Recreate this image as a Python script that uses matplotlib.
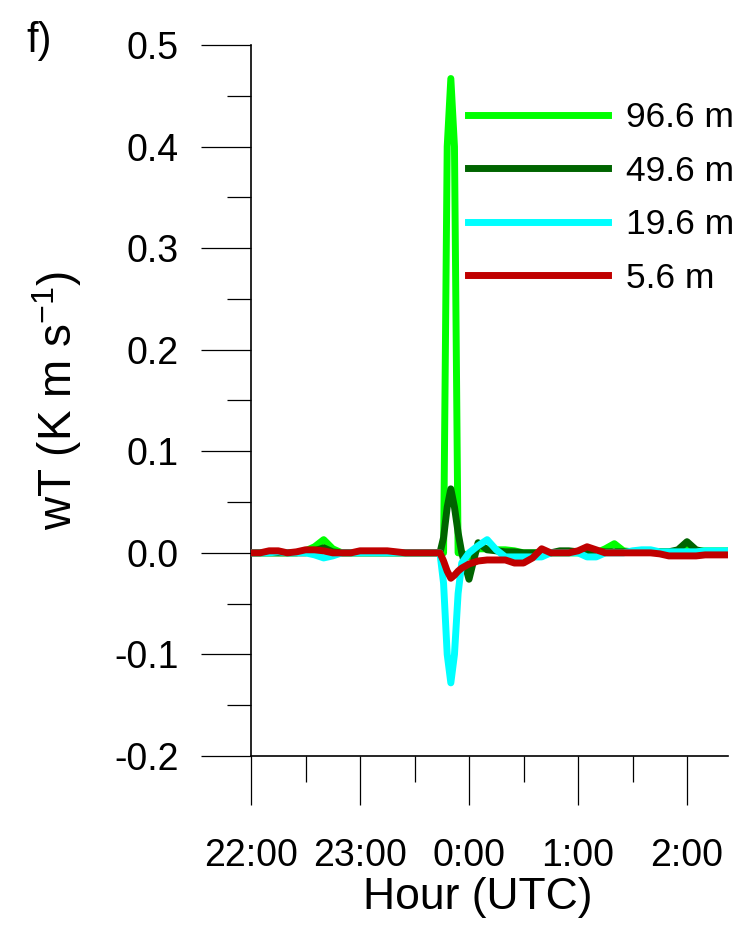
import numpy as np
import matplotlib
matplotlib.use("Agg")
import matplotlib.pyplot as plt
from matplotlib.ticker import MultipleLocator, FixedLocator, FormatStrFormatter

plt.rcParams['font.family'] = ['Liberation Sans', 'DejaVu Sans']
plt.rcParams['axes.unicode_minus'] = False
plt.rcParams['mathtext.fontset'] = 'custom'
plt.rcParams['mathtext.rm'] = 'Liberation Sans'
plt.rcParams['mathtext.it'] = 'Liberation Sans'

# sample times in minutes after 22:00 (denser around the event near 23:50)
minutes_after_2200 = [0, 5, 10, 15, 20, 25, 30, 35, 40, 45,
                      50, 55, 60, 65, 70, 75, 80, 85, 90, 95,
                      100, 104, 106, 108, 110, 112, 114, 116, 120, 125,
                      130, 135, 140, 145, 150, 155, 160, 165, 170, 175,
                      180, 185, 190, 195, 200, 205, 210, 215, 220, 225,
                      230, 235, 240, 245, 250, 255, 260, 265]
hours = 22 + np.array(minutes_after_2200) / 60.0

wT_96_6 = [0, 0, 0, 0, 0, 0, 0.002, 0.006, 0.013, 0.004,
           0, 0, 0, 0, 0, 0, 0, 0, 0, 0,
           0, 0.0, 0.0, 0.40, 0.467, 0.40, 0.0, 0.0, -0.004, 0.004,
           0.004, 0.003, 0.003, 0.002, 0, 0, 0, 0, 0, 0,
           0, 0, 0, 0.004, 0.009, 0.002, 0.001, 0.001, 0.001, 0.001,
           0.001, 0.001, 0.004, 0.002, 0.002, 0.002, 0.002, 0.002]
wT_49_6 = [0, 0, 0, 0, 0, 0, 0, 0.002, 0.005, 0.001,
           0, 0, 0, 0, 0, 0, 0, 0, 0, 0,
           0, 0.0, 0.015, 0.045, 0.063, 0.045, 0.02, 0.0, -0.026, 0.010,
           0.003, 0.002, 0.001, 0.001, 0, 0, 0, 0, 0.002, 0.002,
           0.001, 0.001, 0.001, 0.001, 0.001, 0.001, 0.001, 0.001, 0.001, 0.001,
           0.001, 0.003, 0.011, 0.003, 0.001, 0.001, 0.001, 0.001]
wT_19_6 = [0, 0, 0, 0.001, 0, 0, 0, -0.002, -0.005, -0.003,
           0, 0, 0, 0, 0, 0, 0, 0, 0, 0,
           0, 0.0, -0.03, -0.10, -0.128, -0.10, -0.04, -0.01, 0.0, 0.007,
           0.013, 0.003, -0.004, -0.004, -0.004, -0.004, -0.004, 0, 0, 0,
           0, -0.004, -0.004, 0, 0, 0, 0.002, 0.003, 0.003, 0.001,
           0.001, 0.001, 0.001, 0.001, 0.002, 0.002, 0.002, 0.002]
wT_5_6 = [0, 0, 0.002, 0.002, 0, 0.001, 0.003, 0.003, 0.002, 0,
          0, 0, 0.002, 0.002, 0.002, 0.002, 0.001, 0, 0, 0,
          0, 0.0, -0.008, -0.018, -0.025, -0.022, -0.018, -0.015, -0.011, -0.008,
          -0.007, -0.007, -0.007, -0.010, -0.010, -0.005, 0.004, 0, 0, 0,
          0.002, 0.006, 0.003, 0, 0, 0, 0, 0, 0, -0.001,
          -0.003, -0.003, -0.003, -0.003, -0.002, -0.002, -0.002, -0.002]

series_labels = ['96.6 m', '49.6 m', '19.6 m', '5.6 m']
series_colors = ['#00FF00', '#006400', '#00FFFF', '#C00000']
series_values = [wT_96_6, wT_49_6, wT_19_6, wT_5_6]

hour_ticks = [22, 23, 24, 25, 26]
hour_labels = ['22:00', '23:00', '0:00', '1:00', '2:00']

fig = plt.figure(figsize=(7.47, 9.25), dpi=100)
ax = fig.add_axes([251 / 747, 1 - 756 / 925, 477 / 747, 711 / 925])

for vals, col, lab, z in zip(series_values, series_colors, series_labels, [2, 3, 4, 5]):
    ax.plot(hours, vals, color=col, lw=5, label=lab, zorder=z, solid_joinstyle='round')

ax.set_xlim(22, 22 + 477 / 109)
ax.set_ylim(-0.2, 0.5)

for s in ['top', 'right']:
    ax.spines[s].set_visible(False)
for s in ['left', 'bottom']:
    ax.spines[s].set_linewidth(1.2)

ax.xaxis.set_major_locator(FixedLocator(hour_ticks))
ax.set_xticklabels(hour_labels)
ax.xaxis.set_minor_locator(MultipleLocator(0.5))
ax.yaxis.set_major_locator(MultipleLocator(0.1))
ax.yaxis.set_minor_locator(MultipleLocator(0.05))
ax.yaxis.set_major_formatter(FormatStrFormatter('%.1f'))

ax.tick_params(axis='y', which='major', direction='out', length=36, width=0.9, pad=16, labelsize=27)
ax.tick_params(axis='y', which='minor', direction='out', length=17.5, width=0.9)
ax.tick_params(axis='x', which='major', direction='out', length=35, width=0.9, pad=24, labelsize=27)
ax.tick_params(axis='x', which='minor', direction='out', length=19, width=0.9)

ax.set_xlabel('Hour (UTC)', fontsize=32)
ax.xaxis.set_label_coords((478 - 251) / 477, (756 - 877) / 711)
ax.set_ylabel('wT (K m s$^{-1}$)', fontsize=33)
ax.yaxis.set_label_coords(-0.35, 0.5)

leg = ax.legend(loc='upper left', bbox_to_anchor=((468 - 251) / 477, (756 - 101) / 711),
                frameon=False, fontsize=25.5, handlelength=3.95, handletextpad=0.5,
                labelspacing=0.58, borderpad=0, borderaxespad=0)

fig.text(26 / 747, 1 - 41 / 925, 'f)', fontsize=30, va='center', ha='left')

fig.savefig('out.png', dpi=100)
